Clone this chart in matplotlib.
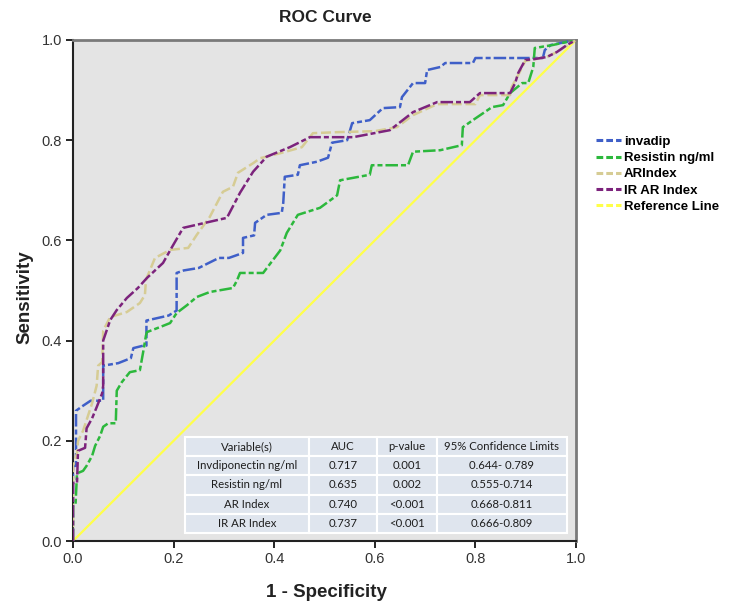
import matplotlib
matplotlib.use("Agg")
import matplotlib.pyplot as plt

# ROC points (1 - specificity, sensitivity)
invadip_x = [0, 0, 0.006, 0.006, 0.02, 0.035, 0.06, 0.06, 0.09, 0.115, 0.12, 0.14, 0.146, 0.146,
             0.19, 0.206, 0.206, 0.22, 0.25, 0.29, 0.31, 0.338, 0.338, 0.36, 0.362, 0.385, 0.415,
             0.418, 0.421, 0.447, 0.451, 0.485, 0.507, 0.515, 0.545, 0.555, 0.59, 0.616, 0.65,
             0.654, 0.676, 0.70, 0.704, 0.73, 0.74, 0.795, 0.80, 0.934, 0.938, 0.95, 1.0]
invadip_y = [0, 0.15, 0.15, 0.26, 0.27, 0.28, 0.28, 0.35, 0.355, 0.365, 0.385, 0.39, 0.39, 0.44,
             0.45, 0.46, 0.535, 0.54, 0.545, 0.565, 0.565, 0.575, 0.605, 0.61, 0.635, 0.651, 0.655,
             0.675, 0.727, 0.731, 0.75, 0.757, 0.765, 0.795, 0.80, 0.834, 0.84, 0.864, 0.866,
             0.886, 0.914, 0.914, 0.94, 0.946, 0.954, 0.954, 0.964, 0.964, 0.98, 0.99, 1.0]

resistin_x = [0, 0, 0.005, 0.008, 0.02, 0.027, 0.038, 0.044, 0.054, 0.06, 0.07, 0.085, 0.087,
              0.097, 0.113, 0.133, 0.14, 0.145, 0.147, 0.173, 0.193, 0.206, 0.227, 0.246, 0.272,
              0.318, 0.326, 0.332, 0.378, 0.412, 0.425, 0.447, 0.491, 0.525, 0.531, 0.59, 0.594,
              0.666, 0.676, 0.73, 0.773, 0.775, 0.795, 0.833, 0.855, 0.869, 0.893, 0.905, 0.915,
              0.918, 0.954, 1.0]
resistin_y = [0, 0.07, 0.072, 0.135, 0.14, 0.15, 0.17, 0.19, 0.21, 0.228, 0.235, 0.235, 0.30,
              0.317, 0.337, 0.341, 0.38, 0.41, 0.417, 0.427, 0.435, 0.455, 0.471, 0.487, 0.497,
              0.505, 0.52, 0.535, 0.535, 0.58, 0.615, 0.651, 0.665, 0.69, 0.72, 0.731, 0.75,
              0.75, 0.777, 0.78, 0.79, 0.826, 0.84, 0.866, 0.87, 0.894, 0.914, 0.914, 0.946,
              0.984, 0.99, 1.0]

arindex_x = [0, 0, 0.008, 0.01, 0.02, 0.038, 0.047, 0.05, 0.058, 0.06, 0.074, 0.107, 0.133,
             0.143, 0.145, 0.163, 0.193, 0.229, 0.246, 0.272, 0.298, 0.318, 0.328, 0.358, 0.372,
             0.412, 0.455, 0.477, 0.525, 0.60, 0.644, 0.676, 0.724, 0.80, 0.809, 0.869, 0.872,
             0.885, 0.899, 0.942, 0.962, 1.0]
arindex_y = [0, 0.15, 0.175, 0.2, 0.22, 0.275, 0.31, 0.35, 0.357, 0.42, 0.447, 0.457, 0.475,
             0.491, 0.521, 0.565, 0.581, 0.585, 0.611, 0.647, 0.697, 0.707, 0.735, 0.754, 0.764,
             0.774, 0.786, 0.814, 0.816, 0.818, 0.826, 0.85, 0.872, 0.872, 0.89, 0.89, 0.906,
             0.93, 0.958, 0.966, 0.976, 1.0]

irar_x = [0, 0, 0.008, 0.01, 0.024, 0.027, 0.038, 0.047, 0.058, 0.06, 0.06, 0.074, 0.087, 0.107,
          0.129, 0.147, 0.179, 0.197, 0.219, 0.306, 0.332, 0.358, 0.385, 0.431, 0.471, 0.557,
          0.63, 0.676, 0.724, 0.789, 0.809, 0.869, 0.879, 0.885, 0.899, 0.918, 0.942, 0.962,
          0.982, 1.0]
irar_y = [0, 0.116, 0.116, 0.18, 0.186, 0.225, 0.245, 0.267, 0.295, 0.31, 0.40, 0.441, 0.461,
          0.485, 0.505, 0.525, 0.555, 0.587, 0.625, 0.645, 0.695, 0.737, 0.767, 0.786, 0.806,
          0.806, 0.82, 0.856, 0.876, 0.876, 0.894, 0.894, 0.914, 0.934, 0.96, 0.962, 0.966,
          0.976, 0.99, 1.0]

labels = ["invadip", "Resistin ng/ml", "ARIndex", "IR AR Index", "Reference Line"]
colors = ["#3f5fc8", "#2cb83c", "#d6cc94", "#7c237c", "#ffff4a"]

table_header = ["Variable(s)", "AUC", "p-value", "95% Confidence Limits"]
table_rows = [
    ["Invdiponectin ng/ml", "0.717", "0.001", "0.644- 0.789"],
    ["Resistin ng/ml", "0.635", "0.002", "0.555-0.714"],
    ["AR Index", "0.740", "<0.001", "0.668-0.811"],
    ["IR AR Index", "0.737", "<0.001", "0.666-0.809"],
]

plt.rcParams["font.family"] = ["Liberation Sans", "DejaVu Sans"]

fig = plt.figure(figsize=(7.51, 6.15), dpi=100)
ax = fig.add_axes([0.0972, 0.1203, 0.6698, 0.8147])
ax.set_facecolor("#e4e4e4")

series = [(invadip_x, invadip_y), (resistin_x, resistin_y),
          (arindex_x, arindex_y), (irar_x, irar_y)]
dash = [(5, 1.2, 2, 1.2), (5, 1.2, 2, 1.2), (4, 1.5), (5, 1.2, 2, 1.2)]
order = [2, 0, 1, 3]
for i in order:
    xs, ys = series[i]
    ax.plot(xs, ys, color=colors[i], lw=1.8, dashes=dash[i], label=labels[i], zorder=3 + i)
ax.plot([0, 1], [0, 1], color=colors[4], lw=1.6, label=labels[4], zorder=2)

ax.set_xlim(0, 1)
ax.set_ylim(0, 1)
ax.set_xticks([0, 0.2, 0.4, 0.6, 0.8, 1.0])
ax.set_yticks([0, 0.2, 0.4, 0.6, 0.8, 1.0])
ax.set_xticklabels(["0.0", "0.2", "0.4", "0.6", "0.8", "1.0"])
ax.set_yticklabels(["0.0", "0.2", "0.4", "0.6", "0.8", "1.0"])
ax.tick_params(direction="out", length=5, width=1.2, labelsize=10.5, labelcolor="#333333", pad=3)

for s in ["left", "bottom"]:
    ax.spines[s].set_color("#222222")
    ax.spines[s].set_linewidth(1.5)
for s in ["top", "right"]:
    ax.spines[s].set_color("#7a7a7a")
    ax.spines[s].set_linewidth(2)

fig.text(0.433, 0.971, "ROC Curve", ha="center", va="center", fontsize=12.5, fontweight="bold",
         color="#222222")
fig.text(0.435, 0.037, "1 - Specificity", ha="center", va="center", fontsize=13.5,
         fontweight="bold", color="#222222")
fig.text(0.033, 0.517, "Sensitivity", ha="center", va="center", rotation=90, fontsize=13.5,
         fontweight="bold", color="#222222")

leg_handles = []
for i in range(5):
    h, = ax.plot([], [], color=colors[i], lw=2.2, dashes=(2.2, 1))
    leg_handles.append(h)
fig.legend(leg_handles, labels, loc="upper left", bbox_to_anchor=(0.785, 0.79),
           frameon=False, prop={"weight": "bold", "size": 9.5},
           handlelength=1.9, handletextpad=0.2, labelspacing=0.3, borderpad=0)

# statistics table inside the plot area
tbl = ax.table(cellText=table_rows, colLabels=table_header, cellLoc="center",
               colWidths=[0.325, 0.178, 0.157, 0.340],
               bbox=[0.222, 0.016, 0.760, 0.192], zorder=10)
tbl.auto_set_font_size(False)
for (r, c), cell in tbl.get_celld().items():
    cell.set_facecolor("#dfe5ee")
    cell.set_edgecolor("white")
    cell.set_linewidth(1.5)
    cell.get_text().set_fontsize(8.2)
    cell.get_text().set_fontfamily("Lato")
    cell.get_text().set_color("#1e1e1e")

fig.savefig("out.png", dpi=100)
